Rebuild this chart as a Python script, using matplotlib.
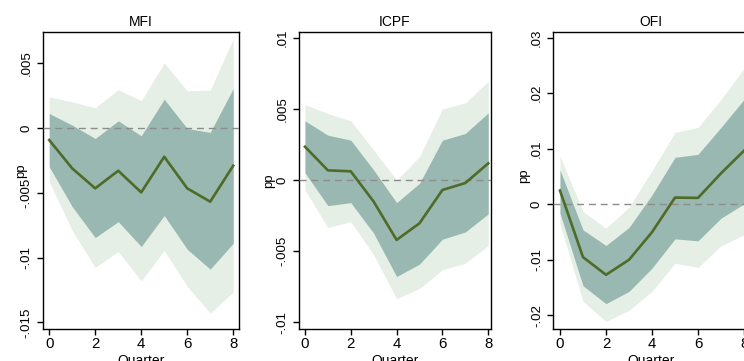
import matplotlib
matplotlib.use("Agg")
import matplotlib.pyplot as plt
from matplotlib import font_manager

plt.rcParams['font.family'] = ['Liberation Sans', 'DejaVu Sans']

quarters = [0, 1, 2, 3, 4, 5, 6, 7, 8]

titles = ["MFI", "ICPF", "OFI"]

# MFI
mfi_irf = [-0.00092, -0.00311, -0.00465, -0.00329, -0.00496, -0.00221, -0.00465, -0.00568, -0.0029]
mfi_hi68 = [0.00113, 0.00023, -0.0008, 0.00056, -0.00059, 0.00223, -0.00003, -0.00033, 0.00306]
mfi_lo68 = [-0.00298, -0.00606, -0.00845, -0.00722, -0.00914, -0.00675, -0.00935, -0.01089, -0.00889]
mfi_hi90 = [0.00241, 0.00203, 0.00157, 0.00298, 0.00211, 0.00503, 0.00288, 0.00293, 0.0069]
mfi_lo90 = [-0.00413, -0.0079, -0.01076, -0.00953, -0.01179, -0.00945, -0.01222, -0.01428, -0.01266]

# ICPF
icpf_irf = [0.00234, 0.00068, 0.00061, -0.00152, -0.00421, -0.00304, -0.0007, -0.00021, 0.00117]
icpf_hi68 = [0.00416, 0.00315, 0.0028, 0.0007, -0.00159, -0.00023, 0.0028, 0.00327, 0.00472]
icpf_lo68 = [0.00051, -0.0018, -0.00159, -0.00374, -0.00678, -0.00591, -0.00416, -0.00365, -0.00238]
icpf_hi90 = [0.0053, 0.00467, 0.00416, 0.0021, 0.0, 0.00164, 0.005, 0.00542, 0.00694]
icpf_lo90 = [-0.0007, -0.00334, -0.00292, -0.00526, -0.00834, -0.00762, -0.00631, -0.00584, -0.0046]

# OFI
ofi_irf = [0.00246, -0.00952, -0.0127, -0.01, -0.00503, 0.0012, 0.00114, 0.00557, 0.00964]
ofi_hi68 = [0.00617, -0.00461, -0.00743, -0.00419, 0.00168, 0.00844, 0.00898, 0.01383, 0.01886]
ofi_lo68 = [-0.00162, -0.01467, -0.0179, -0.01569, -0.0115, -0.00623, -0.00659, -0.00251, 0.00006]
ofi_hi90 = [0.00868, -0.00132, -0.00431, -0.00054, 0.00605, 0.01293, 0.01383, 0.01886, 0.02443]
ofi_lo90 = [-0.00353, -0.01749, -0.02108, -0.0191, -0.01569, -0.0106, -0.01138, -0.00749, -0.00551]

ytick_vals = [
    [-0.015, -0.01, -0.005, 0, 0.005],
    [-0.01, -0.005, 0, 0.005, 0.01],
    [-0.02, -0.01, 0, 0.01, 0.02, 0.03],
]
ytick_labels = [
    ["-.015", "-.01", "-.005", "0", ".005"],
    ["-.01", "-.005", "0", ".005", ".01"],
    ["-.02", "-.01", "0", ".01", ".02", ".03"],
]
xtick_vals = [0, 2, 4, 6, 8]

series = [
    (mfi_irf, mfi_lo68, mfi_hi68, mfi_lo90, mfi_hi90),
    (icpf_irf, icpf_lo68, icpf_hi68, icpf_lo90, icpf_hi90),
    (ofi_irf, ofi_lo68, ofi_hi68, ofi_lo90, ofi_hi90),
]

positions = [
    [0.0578, 0.0886, 0.2634, 0.8227],
    [0.4019, 0.0886, 0.2577, 0.8227],
    [0.7437, 0.0886, 0.2625, 0.8227],
]
xlims = [(-0.27, 8.25), (-0.26, 8.11), (-0.29, 8.2)]
ylims = [(-0.01551, 0.00742), (-0.01047, 0.0104), (-0.02246, 0.031)]
ylabel_xy = [(-0.082, 0.532), (-0.125, 0.50), (-0.119, 0.515)]

installed = {f.name for f in font_manager.fontManager.ttflist}
ytick_family = ['Liberation Sans Narrow', 'Liberation Sans'] if 'Liberation Sans Narrow' in installed else ['Liberation Sans']
ytick_size = 10.8 if 'Liberation Sans Narrow' in installed else 9.5

light = "#e5efe6"
dark = "#99b8b1"
line_c = "#4f6b28"

fig = plt.figure(figsize=(7.44, 3.61), dpi=100)
for i in range(3):
    ax = fig.add_axes(positions[i])
    irf, lo68, hi68, lo90, hi90 = series[i]
    ax.fill_between(quarters, lo90, hi90, color=light, linewidth=0, zorder=1)
    ax.fill_between(quarters, lo68, hi68, color=dark, linewidth=0, zorder=2)
    ax.axhline(0, color="#8c8c8c", linestyle=(0, (5, 3.5)), linewidth=1.0, zorder=3)
    ax.plot(quarters, irf, color=line_c, linewidth=1.9, zorder=4)
    ax.set_xlim(*xlims[i])
    ax.set_ylim(*ylims[i])
    ax.set_xticks(xtick_vals)
    ax.set_xticklabels([str(v) for v in xtick_vals])
    ax.set_yticks(ytick_vals[i])
    ax.set_yticklabels(ytick_labels[i], rotation=90, va="center",
                       family=ytick_family, fontsize=ytick_size)
    ax.tick_params(axis="both", direction="out", length=4, width=1)
    ax.tick_params(axis="x", pad=2, labelsize=10.8)
    ax.tick_params(axis="y", pad=3.5)
    for s in ax.spines.values():
        s.set_linewidth(1.0)
        s.set_color("black")
    ax.set_title(titles[i], fontsize=10, pad=4)
    ax.set_xlabel("Quarter", fontsize=10, labelpad=2)
    ax.set_ylabel("pp", fontsize=9.5)
    ax.yaxis.set_label_coords(*ylabel_xy[i])

fig.savefig("out.png", dpi=100)
